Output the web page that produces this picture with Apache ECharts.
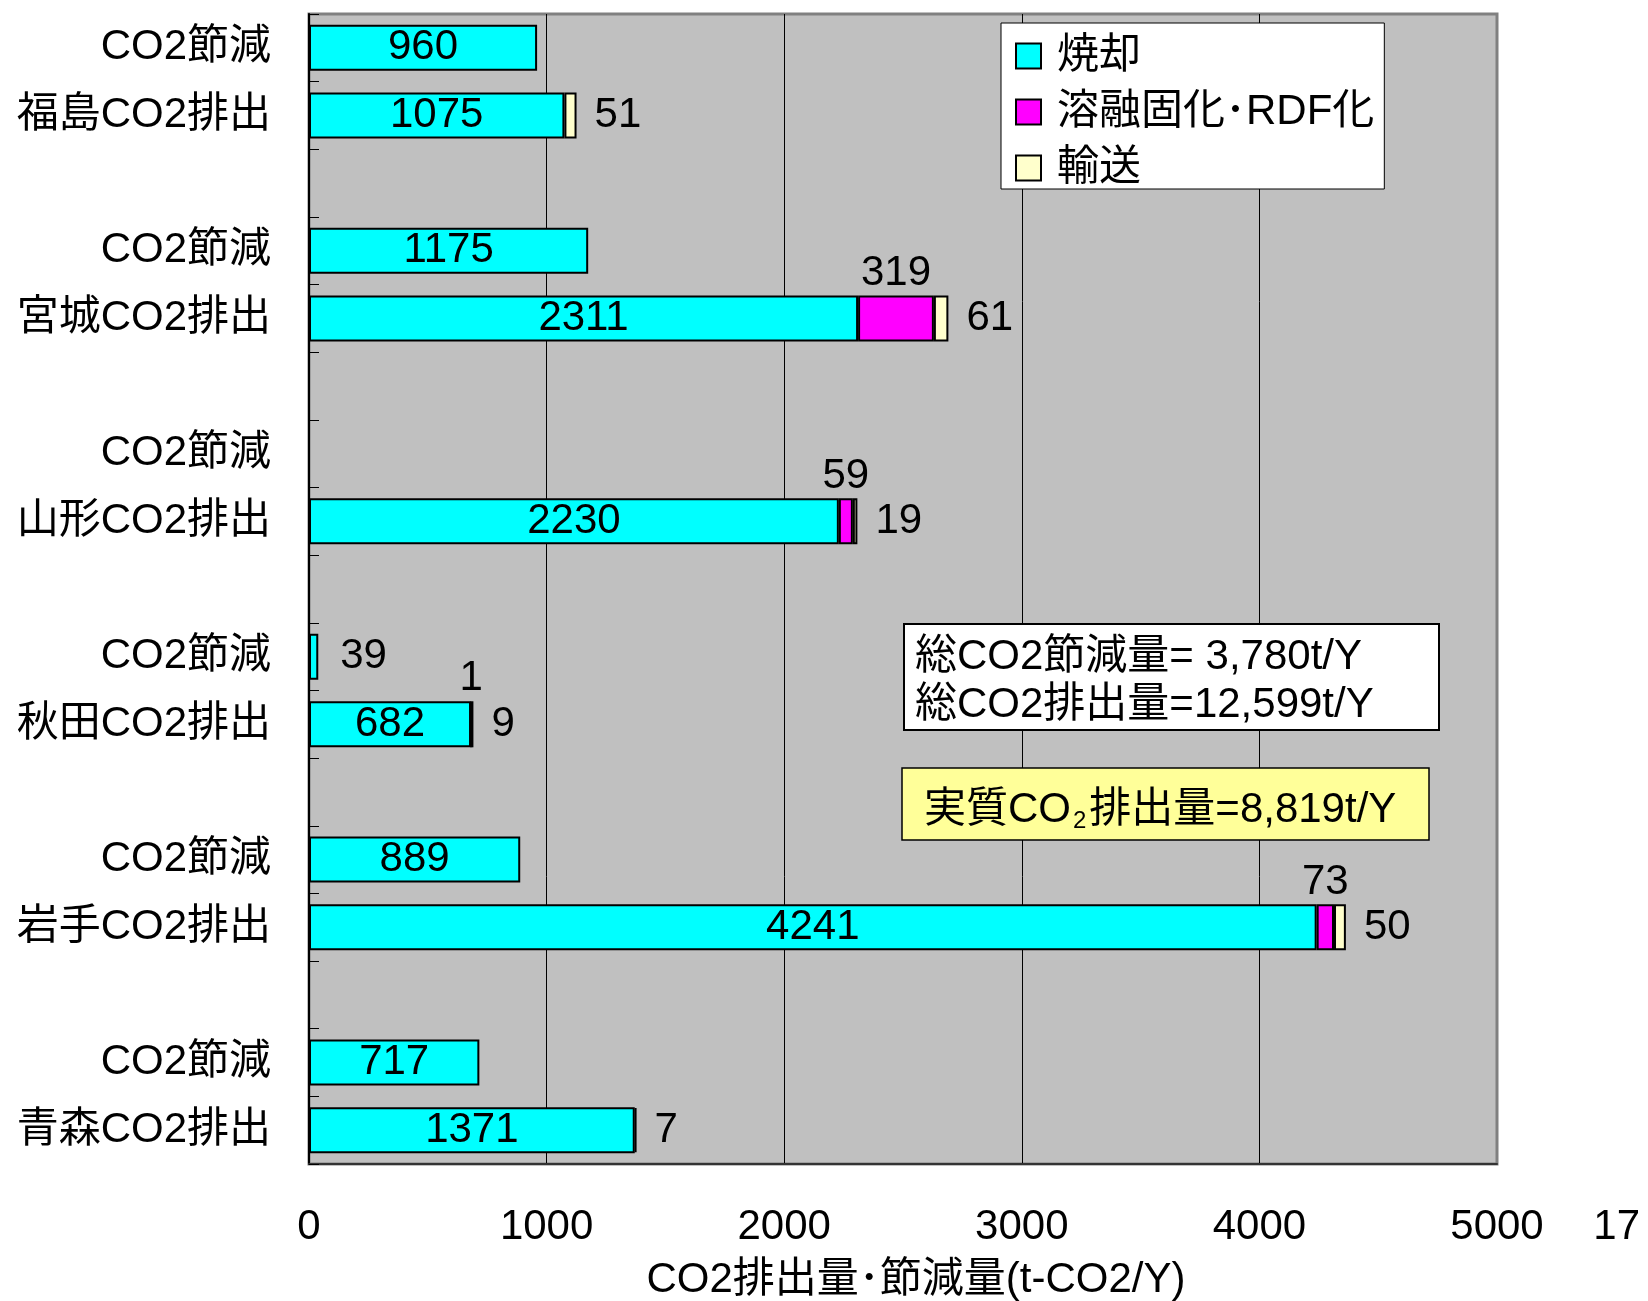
<!DOCTYPE html>
<html>
<head>
<meta charset="utf-8">
<script src="https://cdn.jsdelivr.net/npm/echarts@6/dist/echarts.min.js"></script>
<style>
html,body{margin:0;padding:0;background:#fff;}
#chart{width:1648px;height:1301px;}
</style>
</head>
<body>
<div id="chart"></div>
<script>
// Categories, top to bottom
const categories = ['CO2節減','福島CO2排出','','CO2節減','宮城CO2排出','','CO2節減','山形CO2排出','','CO2節減','秋田CO2排出','','CO2節減','岩手CO2排出','','CO2節減','青森CO2排出'];
const seriesNames = ['焼却','溶融固化･RDF化','輸送'];
const incineration = [960,1075,null,1175,2311,null,null,2230,null,39,682,null,889,4241,null,717,1371];
const melting      = [null,null,null,null,319,null,null,59,null,null,1,null,null,73,null,null,null];
const transport    = [null,51,null,null,61,null,null,19,null,null,9,null,null,50,null,null,7];
const xTicks = [0,1000,2000,3000,4000,5000];
const xAxisTitle = 'CO2排出量･節減量(t-CO2/Y)';
const summaryLine1 = '総CO2節減量= 3,780t/Y';
const summaryLine2 = '総CO2排出量=12,599t/Y';
const netPrefix = '実質CO';
const netSub = '2';
const netSuffix = '排出量=8,819t/Y';
const strayLabel = '17';

const FONT = "'Liberation Sans','Noto Sans CJK JP',sans-serif";
const FS = 42;
const chart = echarts.init(document.getElementById('chart'));

const incData = incineration.map(v => {
  if (v !== null && v < 200) {
    return {value: v, label: {position: 'right', distance: 22}};
  }
  return v;
});

const barBase = {
  type: 'bar', stack: 'total', barWidth: 46,
  itemStyle: {borderColor: '#000', borderWidth: 2},
  label: {show: true, color: '#000', fontSize: FS, fontFamily: FONT}
};

chart.setOption({
  animation: false,
  textStyle: {fontFamily: FONT},
  grid: {left: 309, right: 151, top: 14, bottom: 137, show: true,
         outerBoundsMode: 'none', containLabel: false,
         backgroundColor: '#C0C0C0', borderColor: '#808080', borderWidth: 3},
  legend: {
    orient: 'vertical', left: 1001, top: 23,
    data: seriesNames,
    backgroundColor: '#fff', borderColor: '#000', borderWidth: 1,
    padding: [12, 10, 0, 14],
    itemWidth: 25, itemHeight: 25, itemGap: 14,
    icon: 'rect',
    textStyle: {fontSize: FS, color: '#000', fontFamily: FONT, lineHeight: 42, padding: [0, 0, 0, 11]}
  },
  xAxis: {
    type: 'value', min: xTicks[0], max: xTicks[xTicks.length-1], interval: 1000,
    name: xAxisTitle, nameLocation: 'middle', nameGap: 95,
    nameTextStyle: {fontSize: FS, color: '#000', fontFamily: FONT, padding: [0,0,0,26]},
    axisLine: {show: true, lineStyle: {color: '#333', width: 2}},
    axisTick: {show: false},
    axisLabel: {fontSize: FS, color: '#000', margin: 42, fontFamily: FONT,
                formatter: v => String(v)},
    splitLine: {show: true, showMaxLine: false, showMinLine: false, lineStyle: {color: '#000', width: 1}}
  },
  yAxis: {
    type: 'category', data: categories, inverse: true,
    axisLine: {show: true, lineStyle: {color: '#000', width: 2}},
    axisTick: {show: true, inside: true, length: 10, lineStyle: {color: '#000', width: 1}},
    axisLabel: {fontSize: FS, color: '#000', margin: 38, fontFamily: FONT}
  },
  series: [
    Object.assign({}, barBase, {
      name: seriesNames[0], data: incData,
      itemStyle: {color: '#00FFFF', borderColor: '#000', borderWidth: 2},
      label: Object.assign({}, barBase.label, {position: 'inside'})
    }),
    Object.assign({}, barBase, {
      name: seriesNames[1], data: melting,
      itemStyle: {color: '#FF00FF', borderColor: '#000', borderWidth: 2},
      label: Object.assign({}, barBase.label, {position: 'top', distance: 1})
    }),
    Object.assign({}, barBase, {
      name: seriesNames[2], data: transport,
      itemStyle: {color: '#FFFFCC', borderColor: '#000', borderWidth: 2},
      label: Object.assign({}, barBase.label, {position: 'right', distance: 18})
    })
  ],
  graphic: [
    {type: 'rect', shape: {x: 904, y: 624, width: 535, height: 106},
     style: {fill: '#fff', stroke: '#000', lineWidth: 2}, z: 100},
    {type: 'text', x: 915, y: 657, z: 101,
     style: {text: summaryLine1, fontSize: FS, fontFamily: FONT, fill: '#000', verticalAlign: 'middle'}},
    {type: 'text', x: 915, y: 705, z: 101,
     style: {text: summaryLine2, fontSize: FS, fontFamily: FONT, fill: '#000', verticalAlign: 'middle'}},
    {type: 'rect', shape: {x: 902, y: 768, width: 527, height: 72},
     style: {fill: '#FFFF99', stroke: '#000', lineWidth: 1.5}, z: 100},
    {type: 'text', x: 924, y: 810, z: 101,
     style: {text: '{a|' + netPrefix + '}{s|' + netSub + '}{a|' + netSuffix + '}',
             verticalAlign: 'middle', fontFamily: FONT,
             rich: {a: {fontSize: FS, lineHeight: 46, fontFamily: FONT, fill: '#000'},
                    s: {fontSize: 24, lineHeight: 24, fontFamily: FONT, fill: '#000', verticalAlign: 'bottom', padding: [0, 3, 0, 2]}}}},
    {type: 'text', x: 1640, y: 1227, z: 101,
     style: {text: strayLabel, fontSize: FS, fontFamily: FONT, fill: '#000', align: 'right', verticalAlign: 'middle'}}
  ]
});
</script>
</body>
</html>
